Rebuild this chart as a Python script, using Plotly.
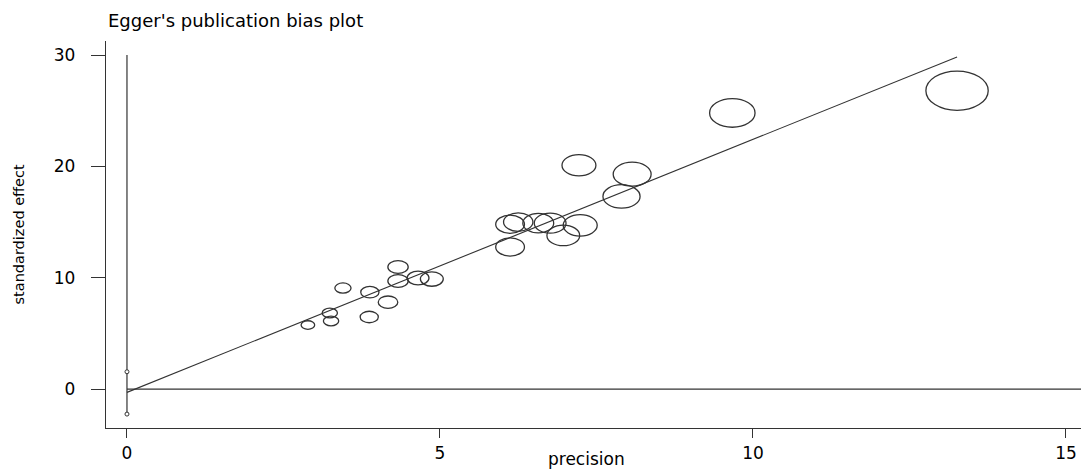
import plotly.graph_objects as go

# ---- data ----
precision = [2.89, 3.24, 3.26, 3.45, 3.88, 3.87, 4.17, 4.33, 4.33, 4.65, 4.87,
             6.12, 6.12, 6.25, 6.57, 6.76, 6.97, 7.24, 7.22, 7.90, 8.07, 9.67, 13.26]
std_effect = [5.75, 6.83, 6.11, 9.07, 8.70, 6.47, 7.80, 10.96, 9.70, 9.97, 9.88,
              12.76, 14.80, 15.00, 14.90, 14.90, 13.80, 14.70, 20.10, 17.30, 19.30, 24.80, 26.80]
egger_intercept = -0.30
egger_slope = 2.272
intercept_ci = [-2.25, 1.55]
x_ticks = [0, 5, 10, 15]
y_ticks = [0, 10, 20, 30]
title_text = "Egger's publication bias plot"
x_title = "precision"
y_title = "standardized effect"

# ---- styling ----
LINE = "#333333"
FONT = "DejaVu Sans"
x_range = [-0.335, 15.24]
y_range = [-3.5, 31.26]

fig = go.Figure()

# vertical reference line at x = 0 with intercept CI markers
fig.add_trace(go.Scatter(x=[0, 0], y=[intercept_ci[0], y_ticks[-1]], mode="lines",
                         line=dict(color=LINE, width=1.2), hoverinfo="skip"))
fig.add_trace(go.Scatter(x=[0, 0], y=intercept_ci, mode="markers",
                         marker=dict(size=4, color="white", symbol="circle",
                                     line=dict(color=LINE, width=1)),
                         hoverinfo="skip"))
# horizontal zero line
fig.add_trace(go.Scatter(x=[0, x_range[1]], y=[0, 0], mode="lines",
                         line=dict(color=LINE, width=1.2), hoverinfo="skip"))
# Egger regression line
xr = [0, max(precision)]
fig.add_trace(go.Scatter(x=xr, y=[egger_intercept + egger_slope * v for v in xr],
                         mode="lines", line=dict(color=LINE, width=1.1), hoverinfo="skip"))
# study points (hover carrier)
fig.add_trace(go.Scatter(x=precision, y=std_effect, mode="markers",
                         marker=dict(size=8, opacity=0)))

# hollow, weight-scaled ellipses anchored at each study
for p, e in zip(precision, std_effect):
    w = 4.7 * p
    h = 0.63 * w
    fig.add_shape(type="circle", xref="x", yref="y",
                  xsizemode="pixel", ysizemode="pixel",
                  xanchor=p, yanchor=e,
                  x0=-w / 2, x1=w / 2, y0=-h / 2, y1=h / 2,
                  line=dict(color=LINE, width=1.3), fillcolor="rgba(0,0,0,0)",
                  layer="above")

fig.update_layout(
    width=1081, height=469,
    margin=dict(l=106, r=0, t=41, b=41),
    paper_bgcolor="white", plot_bgcolor="white",
    showlegend=False,
    xaxis=dict(range=x_range, showline=True, linecolor=LINE, linewidth=1.3,
               ticks="outside", ticklen=9, tickcolor=LINE, tickwidth=1.2,
               tickvals=x_ticks, showgrid=False, zeroline=False,
               tickfont=dict(family=FONT, size=17, color="#000")),
    yaxis=dict(range=y_range, showline=True, linecolor=LINE, linewidth=1.3,
               ticks="outside", ticklen=14, tickcolor=LINE, tickwidth=1.2,
               tickvals=y_ticks, showgrid=False, zeroline=False,
               ticklabelstandoff=12,
               tickfont=dict(family=FONT, size=17, color="#000")),
    annotations=[
        dict(text=title_text, xref="paper", yref="paper", x=0, y=(428 - 21) / 387,
             xanchor="left", yanchor="middle", showarrow=False,
             font=dict(family=FONT, size=18, color="#000")),
        dict(text=x_title, xref="paper", yref="paper", x=0.493, y=(428 - 459) / 387,
             xanchor="center", yanchor="middle", showarrow=False,
             font=dict(family=FONT, size=17, color="#000")),
        dict(text=y_title, xref="paper", yref="paper", x=(18 - 106) / 975, y=0.5,
             xanchor="center", yanchor="middle", textangle=-90, showarrow=False,
             font=dict(family=FONT, size=14.5, color="#000")),
    ],
)

fig.write_html("out.html")
